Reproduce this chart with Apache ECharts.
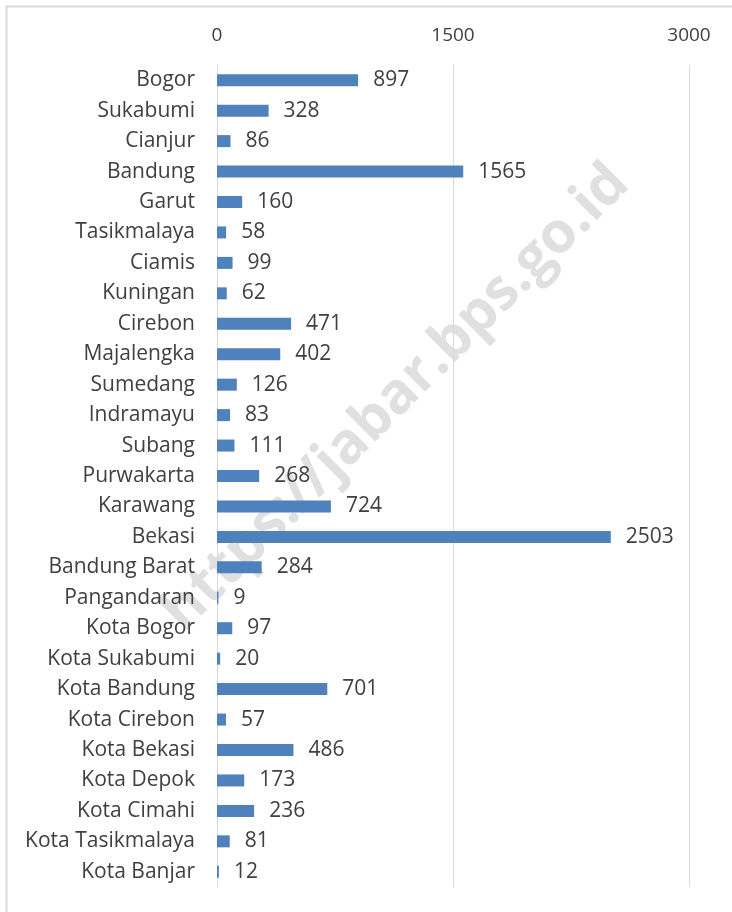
<!DOCTYPE html>
<html>
<head>
<meta charset="utf-8">
<script src="https://cdn.jsdelivr.net/npm/echarts@6/dist/echarts.min.js"></script>
<style>
    html, body { margin: 0; padding: 0; background: #fff; }
    #chart { width: 732px; height: 912px; }
</style>
</head>
<body>
<div id="chart"></div>
<script>
    const categories = [
        'Bogor', 'Sukabumi', 'Cianjur', 'Bandung', 'Garut', 'Tasikmalaya', 'Ciamis',
        'Kuningan', 'Cirebon', 'Majalengka', 'Sumedang', 'Indramayu', 'Subang',
        'Purwakarta', 'Karawang', 'Bekasi', 'Bandung Barat', 'Pangandaran',
        'Kota Bogor', 'Kota Sukabumi', 'Kota Bandung', 'Kota Cirebon', 'Kota Bekasi',
        'Kota Depok', 'Kota Cimahi', 'Kota Tasikmalaya', 'Kota Banjar'
    ];
    const values = [
        897, 328, 86, 1565, 160, 58, 99,
        62, 471, 402, 126, 83, 111,
        268, 724, 2503, 284, 9,
        97, 20, 701, 57, 486,
        173, 236, 81, 12
    ];
    const tickValues = [0, 1500, 3000];

    const myChart = echarts.init(document.getElementById('chart'));
    const font = '"Open Sans", "Noto Sans", sans-serif';

    const option = {
        animation: false,
        backgroundColor: '#fff',
        grid: {
            left: 217,
            right: 43,
            top: 65,
            bottom: 25,
            containLabel: false
        },
        graphic: [
            {
                type: 'rect',
                left: 4,
                top: 4,
                shape: { width: 740, height: 920 },
                style: { fill: 'none', stroke: '#d9d9d9', lineWidth: 2 },
                silent: true
            },
            {
                type: 'text',
                x: 396,
                y: 398,
                rotation: Math.PI / 4,
                z: -1,
                style: {
                    text: 'https://jabar.bps.go.id',
                    font: 'bold 57px "Open Sans", sans-serif',
                    fill: '#e0e0e0',
                    align: 'center',
                    verticalAlign: 'middle'
                },
                silent: true
            }
        ],
        xAxis: {
            type: 'value',
            position: 'top',
            min: tickValues[0],
            max: tickValues[tickValues.length - 1],
            interval: 1500,
            axisLine: { show: false },
            axisTick: { show: false },
            axisLabel: {
                color: '#404040',
                fontSize: 19,
                fontFamily: font,
                margin: 20,
                formatter: v => String(v)
            },
            splitLine: {
                show: true,
                lineStyle: { color: '#d9d9d9', width: 1 }
            }
        },
        yAxis: {
            type: 'category',
            inverse: true,
            data: categories,
            axisLine: {
                show: true,
                lineStyle: { color: '#d9d9d9', width: 1 }
            },
            axisTick: { show: false },
            axisLabel: {
                color: '#404040',
                fontSize: 21,
                fontFamily: font,
                margin: 22
            }
        },
        series: [
            {
                type: 'bar',
                data: values,
                barWidth: 12,
                itemStyle: { color: '#4f81bd' },
                label: {
                    show: true,
                    position: 'right',
                    distance: 15,
                    color: '#404040',
                    fontSize: 21,
                    fontFamily: font
                }
            }
        ]
    };
    myChart.setOption(option);
</script>
</body>
</html>
